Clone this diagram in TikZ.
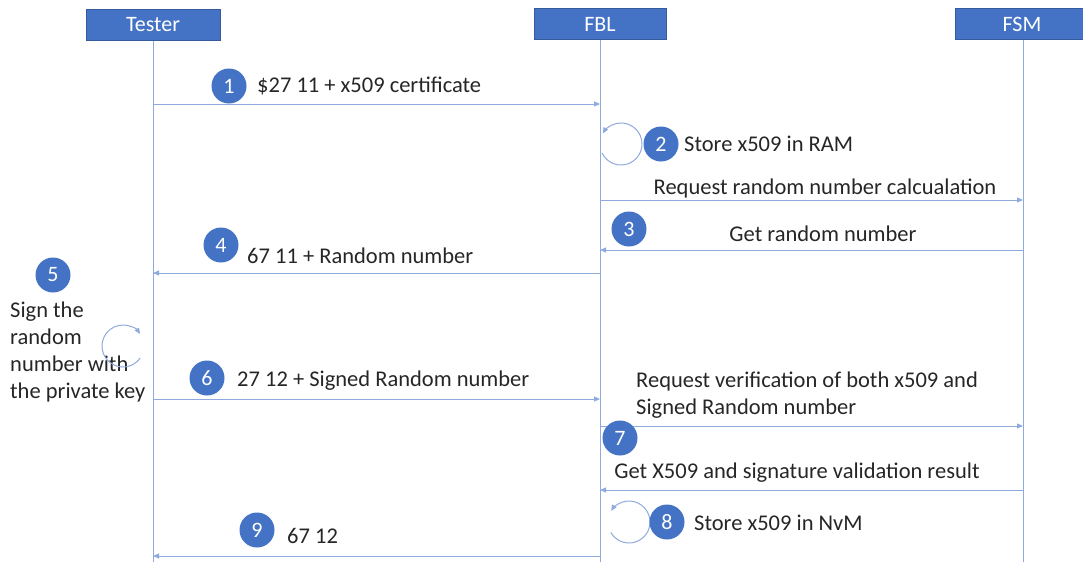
\documentclass[tikz,border=0pt]{standalone}
\usepackage{fontspec}
\setmainfont{Carlito}
\usetikzlibrary{arrows.meta}
\definecolor{hdr}{HTML}{4472C4}
\definecolor{ln}{HTML}{8FAADC}
\begin{document}
\begin{tikzpicture}[x=1pt,y=-1pt,
  header/.style={fill=hdr,draw=hdr!80!black,line width=0.4pt,text=white,minimum height=31pt,inner sep=0pt,font=\fontsize{22}{24}\selectfont},
  life/.style={draw=ln,line width=1pt},
  msg/.style={draw=ln,line width=1pt,-{Triangle[length=6pt,width=5pt]}},
  loop/.style={draw=ln,line width=1pt,-{Triangle[length=6pt,width=5pt]}},
  num/.style={circle,fill=hdr,text=white,minimum size=35pt,inner sep=0pt,font=\fontsize{22}{24}\selectfont},
  lbl/.style={inner sep=0pt,font=\fontsize{22.5}{27}\selectfont,text=black!85},
]
\useasboundingbox (0,0) rectangle (1083,565);
% headers
\node[header,minimum width=134pt] (tester) at (153,25) {Tester};
\node[header,minimum width=132pt] (fbl) at (600,24) {FBL};
\node[header,minimum width=134pt] (fsm) at (1022,24) {FSM};
% lifeline ends
\coordinate (tend) at (153,562);
\coordinate (bend) at (600,562);
\coordinate (send) at (1023,562);
\draw[life] (tester.south) -- (tend);
\draw[life] (fbl.south) -- (bend);
\draw[life] (fsm.south -| send) -- (send);
% lifeline points
\coordinate (t1) at (153,104);
\coordinate (b1) at (600,104);
\coordinate (t6) at (153,399);
\coordinate (b6) at (600,399);
\coordinate (t4) at (153,273);
\coordinate (b4) at (600,273);
\coordinate (t9) at (153,556);
\coordinate (b9) at (600,556);
\coordinate (br) at (600,200);
\coordinate (sr) at (1023,200);
\coordinate (b3) at (600,250);
\coordinate (s3) at (1023,250);
\coordinate (b7) at (600,426);
\coordinate (s7) at (1023,426);
\coordinate (bg) at (600,490);
\coordinate (sg) at (1023,490);
% messages
\draw[msg] (t1) -- (b1);
\node[num] (n1) at (229,86) {1};
\node[lbl,anchor=west] (l1) at (257,86) {\$27 11 + x509 certificate};

\coordinate (c2) at (621,144);
\draw[loop] (c2) ++(155:21) arc[start angle=155,end angle=-150,radius=21];
\node[num] (n2) at (661,144) {2};
\node[lbl,anchor=west] (l2) at (684,144) {Store x509 in RAM};

\draw[msg] (br) -- (sr);
\node[lbl] (lr) at (825,188) {Request random number calcualation};

\draw[msg] (s3) -- (b3);
\node[num] (n3) at (629,229) {3};
\node[lbl] (l3) at (823,234) {Get random number};

\draw[msg] (b4) -- (t4);
\node[num] (n4) at (221,245) {4};
\node[lbl,anchor=west] (l4) at (247,256) {67 11 + Random number};

\node[num] (n5) at (53,275) {5};
\node[lbl,anchor=north west,align=left] (l5) at (10,302) {Sign the\\random\\number with\\the private key};
\coordinate (c5) at (123,346);
\draw[loop] (c5) ++(35:21) arc[start angle=35,end angle=325,radius=21];

\draw[msg] (t6) -- (b6);
\node[num] (n6) at (207,378) {6};
\node[lbl,anchor=west] (l6) at (237,381) {27 12 + Signed Random number};

\draw[msg] (b7) -- (s7);
\node[lbl,anchor=north west,align=left] (l7) at (636,372) {Request verification of both x509 and\\Signed Random number};
\node[num] (n7) at (620,438) {7};

\draw[msg] (sg) -- (bg);
\node[lbl] (lg) at (797,473) {Get X509 and signature validation result};

\coordinate (c8) at (629,522);
\draw[loop] (c8) ++(150:21) arc[start angle=150,end angle=-148,radius=21];
\node[num] (n8) at (667,522) {8};
\node[lbl,anchor=west] (l8) at (694,523) {Store x509 in NvM};

\draw[msg] (b9) -- (t9);
\node[num] (n9) at (257,530) {9};
\node[lbl,anchor=west] (l9) at (287,536) {67 12};
\end{tikzpicture}
\end{document}
